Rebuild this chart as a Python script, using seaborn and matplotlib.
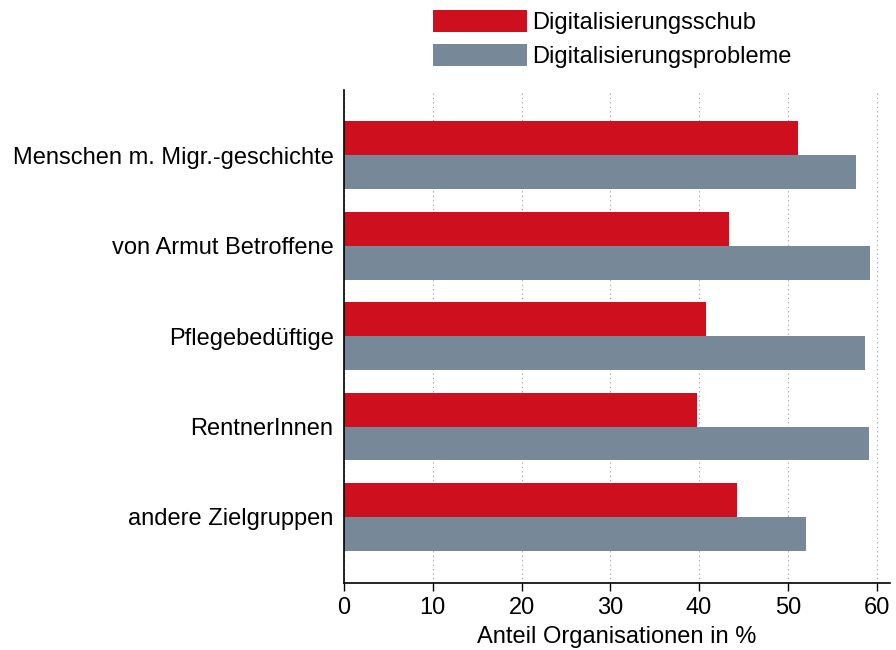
import pandas as pd
import seaborn as sns
import matplotlib.pyplot as plt

# === Data ===
groups = ["Menschen m. Migr.-geschichte", "von Armut Betroffene", "Pflegebedüftige",
          "RentnerInnen", "andere Zielgruppen"]
schub = [51.1, 43.4, 40.8, 39.8, 44.3]
probleme = [57.7, 59.2, 58.7, 59.1, 52.0]
series = ["Digitalisierungsschub", "Digitalisierungsprobleme"]

df = pd.DataFrame({
    "group": groups * 2,
    "value": schub + probleme,
    "series": [series[0]] * len(groups) + [series[1]] * len(groups),
})

sns.set_style("white")
plt.rcParams["font.family"] = ["Liberation Sans", "DejaVu Sans"]
plt.rcParams["text.color"] = "black"
plt.rcParams["axes.labelcolor"] = "black"
plt.rcParams["xtick.color"] = "black"
plt.rcParams["ytick.color"] = "black"

fig = plt.figure(figsize=(8.96, 6.5), dpi=100)
ax = fig.add_axes([344 / 896, 1 - 583 / 650, (890 - 344) / 896, (583 - 90) / 650])

sns.barplot(data=df, y="group", x="value", hue="series", orient="h",
            palette=["#CD0F1E", "#778899"], width=0.75, ax=ax,
            edgecolor="none", saturation=1)

ax.set_xlim(0, 61.5)
ax.set_ylim(4.73, -0.72)
ax.set_xticks(range(0, 61, 10))
ax.xaxis.grid(True, linestyle=(0, (1, 3)), color="#999999", linewidth=0.8)
ax.set_axisbelow(True)
for s in ["top", "right"]:
    ax.spines[s].set_visible(False)
for s in ["left", "bottom"]:
    ax.spines[s].set_color("black")
    ax.spines[s].set_linewidth(1.2)
ax.tick_params(axis="x", bottom=True, length=6, width=1, labelsize=17, pad=4)
ax.tick_params(axis="y", left=False, labelsize=17, pad=4)
ax.set_xlabel("Anteil Organisationen in %", fontsize=17, labelpad=5)
ax.set_ylabel("")

handles, labels = ax.get_legend_handles_labels()
ax.get_legend().remove()
fig.legend(handles, labels, loc="upper left", bbox_to_anchor=(433 / 896, 1 - 10 / 650),
           frameon=False, fontsize=17, handlelength=4.0, handleheight=1.06,
           handletextpad=0.2, labelspacing=0.42, borderaxespad=0, borderpad=0)

fig.savefig("out.png", dpi=100)
